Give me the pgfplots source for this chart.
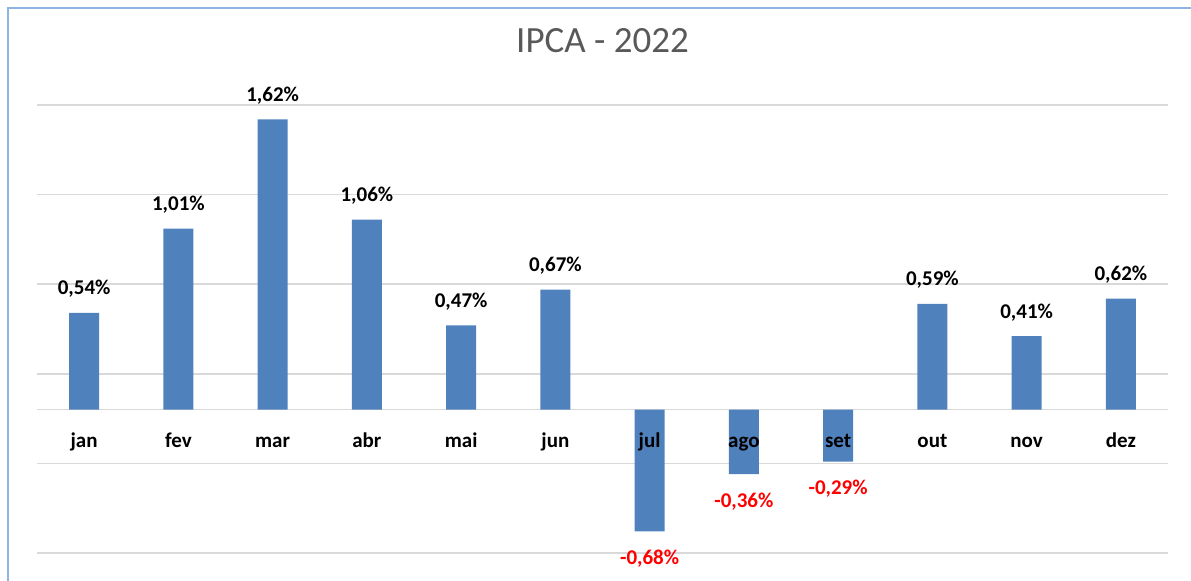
\documentclass[border=0pt]{standalone}
\usepackage{fontspec}
\setmainfont{Carlito}
\usepackage{pgfplots}
\pgfplotsset{compat=1.18}
\definecolor{barblue}{HTML}{4F81BD}
\definecolor{gridgray}{HTML}{D9D9D9}
\definecolor{titlegray}{HTML}{595959}
\definecolor{frameblue}{HTML}{8EB4E3}
\definecolor{negred}{HTML}{FF0000}
\begin{document}
\begin{tikzpicture}
\path[use as bounding box] (-18.5pt,-14pt) rectangle (577pt,276.5pt);
\draw[frameblue,line width=1.1pt] (-14.5pt,-14pt) -- (-14.5pt,272.5pt) -- (577pt,272.5pt);
\begin{axis}[at={(0,0)},anchor=south west,scale only axis,width=565.5pt,height=224pt,
  xmin=-0.5,xmax=11.5,ymin=-0.8,ymax=1.7,
  axis line style={draw=none},major tick length=0pt,
  ytick={-0.8,-0.3,0.2,0.7,1.2,1.7},yticklabels={},
  ymajorgrids,grid style={gridgray,line width=0.8pt},
  extra y ticks={0},extra y tick labels={},
  xtick={0,...,11},xticklabels={},
  title={IPCA - 2022},
  title style={at={(axis description cs:0.5,1.0893)},anchor=base,inner sep=0pt,
    font=\fontsize{18.5}{20}\selectfont,text=titlegray},
  ]
\addplot[ybar,bar width=15pt,bar shift=0pt,fill=barblue,draw=none,
  nodes near coords={\pgfmathprintnumber[fixed,fixed zerofill,precision=2,use comma,assume math mode=true]{\pgfplotspointmeta}\%},
  every node near coord/.append style={font=\bfseries\fontsize{10.5}{12}\selectfont,text=black,anchor=base,inner sep=0pt,yshift=9pt}]
  coordinates {(0,0.54) (1,1.01) (2,1.62) (3,1.06) (4,0.47) (5,0.67) (9,0.59) (10,0.41) (11,0.62)};
\addplot[ybar,bar width=15pt,bar shift=0pt,fill=barblue,draw=none,
  nodes near coords={\pgfmathprintnumber[fixed,fixed zerofill,precision=2,use comma,assume math mode=true]{\pgfplotspointmeta}\%},
  every node near coord/.append style={font=\bfseries\fontsize{10.5}{12}\selectfont,text=negred,anchor=north,inner sep=0pt,yshift=-9pt}]
  coordinates {(6,-0.68) (7,-0.36) (8,-0.29)};
% month names at the zero line, drawn after the bars so they sit on top
\addplot[draw=none,mark=none,point meta=explicit symbolic,nodes near coords,
  every node near coord/.append style={font=\bfseries\fontsize{10.5}{12}\selectfont,text=black,anchor=base,inner sep=0pt,yshift=-19pt}]
  coordinates {(0,0) [jan] (1,0) [fev] (2,0) [mar] (3,0) [abr] (4,0) [mai] (5,0) [jun]
    (6,0) [jul] (7,0) [ago] (8,0) [set] (9,0) [out] (10,0) [nov] (11,0) [dez]};
\end{axis}
\end{tikzpicture}
\end{document}
